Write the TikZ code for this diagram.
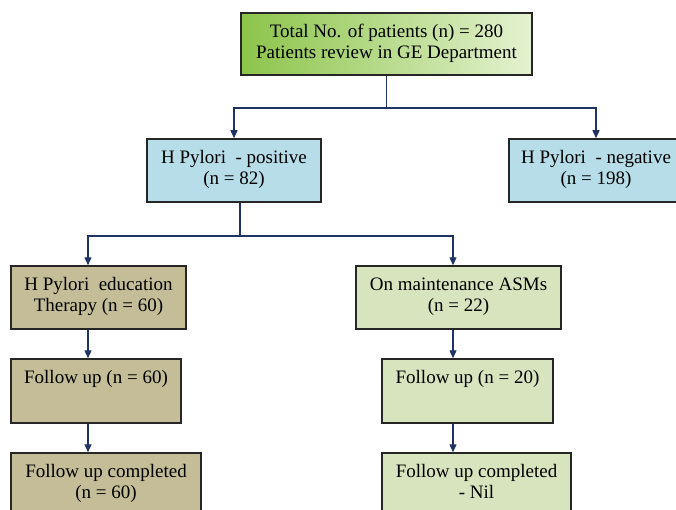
\documentclass[tikz,border=0pt]{standalone}
\usepackage{fontspec}
\setmainfont{Liberation Serif}
\usetikzlibrary{arrows.meta}
\definecolor{arrowblue}{RGB}{31,52,100}
\definecolor{gdark}{RGB}{140,196,74}
\definecolor{glight}{RGB}{228,242,208}
\definecolor{pblue}{RGB}{183,221,232}
\definecolor{ptan}{RGB}{196,189,151}
\definecolor{pgreen}{RGB}{215,228,189}
\tikzset{
    every node/.style={draw=black!85, line width=1.5pt, inner sep=0pt,
    	align=center, font=\fontsize{19}{21}\selectfont},
    box/.style={minimum width=#1, minimum height=63},
    arr/.style={draw=arrowblue, line width=1.4pt, -{Triangle[length=8pt,width=7pt]}},
    link/.style={draw=arrowblue, line width=1.4pt}
}

\begin{document}
\begin{tikzpicture}[x=1pt, y=-1pt]
	\clip (0,0) rectangle (676,510);
	\node (1) [box=291, minimum height=62, left color=gdark, right color=glight] at (386.5,44) {Total No. of patients (n) = 280\\Patients review in GE Department\strut};
	\node (2) [box=174, fill=pblue] at (234,170.5) {H Pylori~ - positive\\(n = 82)\strut};
	\node (3) [box=174, fill=pblue] at (596,170.5) {H Pylori~ - negative\\(n = 198)\strut};
	\node (4) [box=175, fill=ptan] at (98.5,297.5) {H Pylori~ education\\Therapy (n = 60)\strut};
	\node (5) [box=205, fill=pgreen] at (458.5,297.5) {On maintenance ASMs\\(n = 22)\strut};
	\node (6) [box=170, minimum height=64, fill=ptan] at (96,391) {Follow up (n = 60)\\\strut};
	\node (7) [box=171, minimum height=64, fill=pgreen] at (467.5,391) {Follow up (n = 20)\\\strut};
	\node (8) [box=190, fill=ptan] at (106,484.5) {Follow up completed\\(n = 60)\strut};
	\node (9) [box=189, fill=pgreen] at (476.5,484.5) {Follow up completed\\- Nil\strut};
	
	\coordinate (a) at (386.5,108);
	\coordinate (b) at (240,236);
	\coordinate (c1) at (88,0);
	\coordinate (c2) at (453,0);
	
	\draw [link] (1) -- (a); \draw [arr] (a) -| (2); \draw [arr] (a) -| (3);
	\draw [link] (2.south -| b) -- (b);
	\draw [arr] (b) -| (c1 |- 4.north); \draw [arr] (b) -| (c2 |- 5.north);
	\draw [arr] (4.south -| c1) -- (6.north -| c1);
	\draw [arr] (6.south -| c1) -- (8.north -| c1);
	\draw [arr] (5.south -| c2) -- (7.north -| c2);
	\draw [arr] (7.south -| c2) -- (9.north -| c2);
\end{tikzpicture}
\end{document}
